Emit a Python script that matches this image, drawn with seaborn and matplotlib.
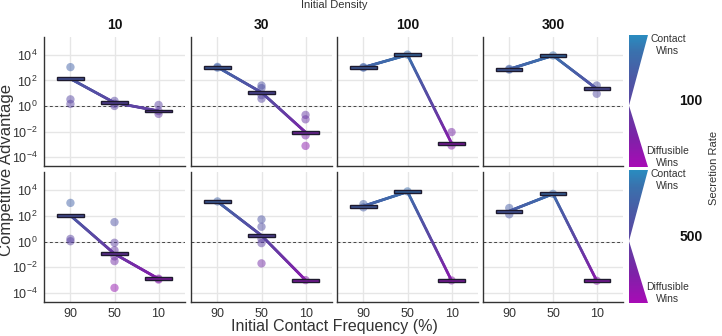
import numpy as np
import pandas as pd
import seaborn as sns
import matplotlib
matplotlib.use("Agg")
import matplotlib.pyplot as plt
from matplotlib.colors import LinearSegmentedColormap, Normalize
from matplotlib.collections import LineCollection
from matplotlib.patches import Rectangle, Polygon

# ---------------- data ----------------
densities = [10, 30, 100, 300]
rates = [100, 500]
freqs = ["90", "50", "10"]
ytick_vals = [1e-4, 1e-2, 1e0, 1e2, 1e4]

# summary (bar) values, order: 90, 50, 10 % contact frequency
mean_r100_d10 = [135, 1.8, 0.41]
mean_r100_d30 = [1100, 11.5, 0.0087]
mean_r100_d100 = [1050, 10000, 0.0012]
mean_r100_d300 = [760, 8900, 22]
mean_r500_d10 = [105, 0.11, 0.00126]
mean_r500_d30 = [1260, 2.95, 0.001]
mean_r500_d100 = [560, 7400, 0.00091]
mean_r500_d300 = [230, 5000, 0.00089]

# replicate points, per frequency (90, 50, 10)
pts_r100_d10 = [[1100, 3.3, 1.45], [2.5, 1.5, 1.0], [1.2, 0.4, 0.24]]
pts_r100_d30 = [[1150, 1000], [40, 25, 7, 3.7], [0.2, 0.09, 0.005, 0.00075]]
pts_r100_d100 = [[1000, 1100], [10500], [0.009, 0.0008]]
pts_r100_d300 = [[700, 800], [9000], [40, 9]]
pts_r500_d10 = [[1000, 1.6, 1.05], [32, 0.8, 0.21, 0.07, 0.03, 0.00025], [0.0011, 0.0013]]
pts_r500_d30 = [[1300], [52, 14, 1.6, 0.75, 0.02], [0.001]]
pts_r500_d100 = [[800, 450], [7800], [0.00095]]
pts_r500_d300 = [[400, 130], [5000], [0.0009]]

means = {
    (100, 10): mean_r100_d10, (100, 30): mean_r100_d30,
    (100, 100): mean_r100_d100, (100, 300): mean_r100_d300,
    (500, 10): mean_r500_d10, (500, 30): mean_r500_d30,
    (500, 100): mean_r500_d100, (500, 300): mean_r500_d300,
}
points = {
    (100, 10): pts_r100_d10, (100, 30): pts_r100_d30,
    (100, 100): pts_r100_d100, (100, 300): pts_r100_d300,
    (500, 10): pts_r500_d10, (500, 30): pts_r500_d30,
    (500, 100): pts_r500_d100, (500, 300): pts_r500_d300,
}

rows = []
for (r, d), lists in points.items():
    for i, vals in enumerate(lists):
        for v in vals:
            rows.append(dict(rate=r, density=d, xi=i, value=v, logv=np.log10(v)))
df = pd.DataFrame(rows)

# ---------------- style ----------------
sns.set_theme(style="white")
plt.rcParams["font.family"] = ["Liberation Sans", "DejaVu Sans"]
plt.rcParams["mathtext.fontset"] = "custom"
plt.rcParams["mathtext.rm"] = "Liberation Sans"
plt.rcParams["mathtext.it"] = "Liberation Sans:italic"
plt.rcParams["mathtext.bf"] = "Liberation Sans:bold"

cmap = LinearSegmentedColormap.from_list(
    "adv",
    [(0.0, "#A80CB6"), (0.22, "#7E22A8"), (0.46, "#5E44A3"),
     (0.70, "#4A5CA6"), (0.88, "#3A72AE"), (1.0, "#2A8CC0")])
LO, HI = -4.7, 5.4
norm = Normalize(LO, HI)

W, H = 722, 336
fig = plt.figure(figsize=(W / 100, H / 100), dpi=100)


def fbox(x0, y0, x1, y1):
    return [x0 / W, 1 - y1 / H, (x1 - x0) / W, (y1 - y0) / H]


col_x = [(44, 185), (191, 332), (337, 478), (483, 623)]
row_y = [(37, 166), (172, 302)]
txt = "#333333"

for ri, r in enumerate(rates):
    for ci, d in enumerate(densities):
        ax = fig.add_axes(fbox(col_x[ci][0], row_y[ri][0], col_x[ci][1], row_y[ri][1]))
        ax.set_yscale("log")
        ax.set_xlim(-0.6, 2.6)
        ax.set_ylim(10 ** LO, 10 ** HI)
        ax.set_axisbelow(True)
        ax.grid(True, which="major", color="#E6E6E6", lw=1.0)
        ax.axhline(1, ls=(0, (3, 2.5)), color="#444444", lw=0.7, zorder=1.5)

        sub = df[(df.rate == r) & (df.density == d)]
        sns.scatterplot(data=sub, x="xi", y="value", hue="logv", palette=cmap,
                        hue_norm=norm, s=36, alpha=0.5, edgecolor="none",
                        legend=False, ax=ax, zorder=2)

        m = means[(r, d)]
        lm = np.log10(m)
        # gradient line between summary bars
        xs, ys = [], []
        for k in range(len(m) - 1):
            t = np.linspace(0, 1, 60, endpoint=(k == len(m) - 2))
            xs.append(k + t)
            ys.append(lm[k] + (lm[k + 1] - lm[k]) * t)
        xs = np.concatenate(xs)
        ys = np.concatenate(ys)
        pts_xy = np.column_stack([xs, 10 ** ys]).reshape(-1, 1, 2)
        segs = np.concatenate([pts_xy[:-1], pts_xy[1:]], axis=1)
        lc = LineCollection(segs, colors=cmap(norm((ys[:-1] + ys[1:]) / 2)),
                            lw=2.0, zorder=3, capstyle="round")
        ax.add_collection(lc)

        for k, v in enumerate(lm):
            c = np.array(cmap(norm(v)))
            c[:3] *= 0.85
            ax.add_patch(Rectangle((k - 0.3, 10 ** (v - 0.11)), 0.6,
                                   10 ** (v + 0.11) - 10 ** (v - 0.11),
                                   facecolor=c, edgecolor="#1E1A2E", lw=1.0, zorder=4))

        for s in ["top", "right"]:
            ax.spines[s].set_visible(False)
        for s in ["left", "bottom"]:
            ax.spines[s].set_color("#333333")
            ax.spines[s].set_linewidth(1.0)
        ax.set_xlabel("")
        ax.set_ylabel("")
        ax.set_xticks([0, 1, 2])
        ax.set_yticks(ytick_vals)
        ax.yaxis.set_minor_locator(matplotlib.ticker.NullLocator())
        if ri == 1:
            ax.set_xticklabels(freqs, fontsize=9, color=txt)
            ax.tick_params(axis="x", length=3, width=0.8, color="#333333", pad=1.5)
        else:
            ax.set_xticklabels([])
            ax.tick_params(axis="x", length=0)
        if ci == 0:
            ax.set_yticklabels([r"$10^{-4}$", r"$10^{-2}$", r"$10^{0}$",
                                r"$10^{2}$", r"$10^{4}$"], fontsize=9, color=txt)
            ax.tick_params(axis="y", length=3, width=0.8, color="#333333", pad=1.5)
        else:
            ax.set_yticklabels([])
            ax.tick_params(axis="y", length=0)
        if ri == 0:
            ax.set_title(str(d), fontsize=10, fontweight="bold", pad=6, color="#111111")

    # legend wedge
    lax = fig.add_axes(fbox(629, row_y[ri][0] - 2, 648, row_y[ri][1] + 1))
    lax.set_xlim(0, 1)
    lax.set_ylim(LO, HI)
    lax.axis("off")
    grad = np.linspace(HI, LO, 300).reshape(-1, 1)
    im = lax.imshow(grad, cmap=cmap, norm=norm, aspect="auto",
                    extent=[0, 1, LO, HI], origin="upper")
    poly = Polygon([[0, HI], [1, HI], [0, 0], [1, LO], [0, LO]], closed=True,
                   transform=lax.transData, facecolor="none", edgecolor="none")
    lax.add_patch(poly)
    im.set_clip_path(poly)

    y0, y1 = row_y[ri]
    fig.text(668 / W, 1 - (y0 + 8) / H, "Contact\nWins", ha="center", va="center",
             fontsize=7.5, color=txt, linespacing=1.25)
    fig.text(668 / W, 1 - (y1 - 9) / H, "Diffusible\nWins", ha="center", va="center",
             fontsize=7.5, color=txt, linespacing=1.25)
    fig.text(691 / W, 1 - ((y0 + y1) / 2) / H, str(r), ha="center", va="center",
             fontsize=10, fontweight="bold", color="#111111")

fig.text(334 / W, 1 - 5 / H, "Initial Density", ha="center", va="center",
         fontsize=8, color=txt)
fig.text(714 / W, 1 - 168 / H, "Secretion Rate", ha="center", va="center",
         rotation=90, fontsize=8, color=txt)
fig.text(7 / W, 1 - 170 / H, "Competitive Advantage", ha="center", va="center",
         rotation=90, fontsize=12, color=txt)
fig.text(334 / W, 1 - 327 / H, "Initial Contact Frequency (%)", ha="center",
         va="center", fontsize=11.5, color=txt)

fig.savefig("out.png", dpi=100)
